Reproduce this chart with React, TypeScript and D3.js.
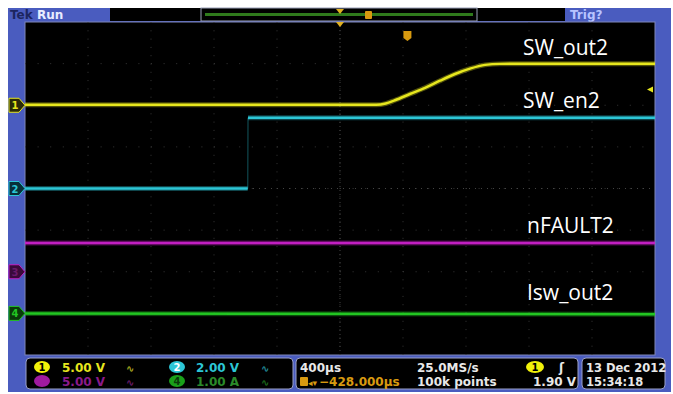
import React from "react";
import * as d3 from "d3";

// ---- data (time in µs, centre of screen = 0; 400 µs/div) ----
const ch1Time = [-2000, 230, 290, 349, 444, 540, 635, 730, 825, 921, 1016, 2000];
const ch1Volts = [0.05, 0.05, 0.2, 0.6, 1.35, 2.1, 2.95, 3.75, 4.4, 4.85, 4.97, 5.0];
const ch2Time = [-2000, -586, -584, 2000];
const ch2Volts = [0.0, 0.0, 3.4, 3.4];
const ch3Time = [-2000, 2000];
const ch3Volts = [3.45, 3.45];
const ch4Time = [-2000, 2000];
const ch4Amps = [0.0, -0.02];

const channelScale = [5, 2, 5, 1]; // units per division
const channelOffsetDiv = [2, 0, -2, -3];
const channelColors = ["#e6e61e", "#2cc6d6", "#c21fc2", "#22c622"];
const channelLabels = ["SW_out2", "SW_en2", "nFAULT2", "Isw_out2"];
const labelBaselineDiv = [3.2, 1.93, -1.07, -2.68];
const triggerTimeUs = 428;
const triggerLevel = 1.9;

const W = 673, H = 394;
const GX0 = 25, GX1 = 655, GY0 = 22, GY1 = 355;

export default function App() {
  const x = d3.scaleLinear().domain([-2000, 2000]).range([GX0, GX1]);
  const yDiv = d3.scaleLinear().domain([4, -4]).range([GY0, GY1]);

  const traces = [
    { t: ch1Time, v: ch1Volts },
    { t: ch2Time, v: ch2Volts },
    { t: ch3Time, v: ch3Volts },
    { t: ch4Time, v: ch4Amps },
  ];
  const yOf = (ci: number, v: number) => yDiv(channelOffsetDiv[ci] + v / channelScale[ci]);
  const mkLine = (ci: number) =>
    d3
      .line<number>()
      .x((_, i) => x(traces[ci].t[i]))
      .y((d) => yOf(ci, d))
      .curve(ci === 0 ? d3.curveMonotoneX : d3.curveLinear)(traces[ci].v) || "";

  const divX = d3.range(0, 11).map((i) => x(-2000 + i * 400));
  const divY = d3.range(-4, 5).map((d) => yDiv(d));
  const cx = x(0), cy = yDiv(0);

  const trigX = x(triggerTimeUs);
  const trigY = yOf(0, triggerLevel);

  const blue = "#4a5cbf";
  const mono = "'DejaVu Sans', sans-serif";

  // segments of step-like traces: fast (vertical) edges are drawn faint
  const segs = (ci: number) =>
    traces[ci].t.slice(1).map((t1, i) => {
      const t0 = traces[ci].t[i];
      const x0 = x(t0), x1 = x(t1);
      const y0 = yOf(ci, traces[ci].v[i]), y1 = yOf(ci, traces[ci].v[i + 1]);
      const steep = Math.abs(x1 - x0) < 2;
      return { x0, x1, y0, y1, steep };
    });

  const marker = (ci: number, label: string, fill: string, tc: string) => {
    const yy = yDiv(channelOffsetDiv[ci]);
    return (
      <g key={"m" + ci}>
        <path
          d={`M9,${yy - 7} L19,${yy - 7} L25,${yy} L19,${yy + 7} L9,${yy + 7} Z`}
          fill={fill}
          stroke={channelColors[ci]}
          strokeWidth={1}
        />
        <text x={15} y={yy + 4} fontSize={10} fontWeight="bold" fontFamily={mono} fill={tc} textAnchor="middle">
          {label}
        </text>
      </g>
    );
  };

  return (
    <svg width={W} height={H} style={{ position: "absolute", left: 0, top: 0 }}>
      <rect x={0} y={0} width={W} height={H} fill="#ffffff" />
      <rect x={8} y={8} width={663} height={384} fill={blue} />
      {/* top status bar */}
      <text x={10} y={19} fontSize={12} fontWeight="bold" fontFamily={mono} fill="#1c2560">Tek</text>
      <text x={37} y={19} fontSize={12} fontWeight="bold" fontFamily={mono} fill="#e8ecff">Run</text>
      <rect x={110} y={8} width={455} height={13} fill="#000" />
      <rect x={201} y={8} width={276} height={13} fill="#000" stroke="#9aa0b8" strokeWidth={1} />
      <rect x={205} y={13} width={268} height={3} fill="#2f7a1c" />
      <path d={`M${cx - 4},9 L${cx + 4},9 L${cx},14 Z`} fill="#e0b020" />
      <rect x={365} y={11} width={7} height={8} rx={1} fill="#d89a10" />
      <text x={570} y={19} fontSize={12} fontWeight="bold" fontFamily={mono} fill="#b8c4ff">Trig?</text>

      {/* graticule */}
      <rect x={GX0} y={GY0} width={GX1 - GX0} height={GY1 - GY0} fill="#000" stroke="#7f86b8" strokeWidth={1} />
      {divX.slice(1, -1).map((xx, i) => (
        <line key={"vx" + i} x1={xx} x2={xx} y1={GY0} y2={GY1} stroke="#363636" strokeWidth={1} strokeDasharray="1,7.3" />
      ))}
      {divY.slice(1, -1).map((yy, i) => (
        <line key={"hy" + i} x1={GX0} x2={GX1} y1={yy} y2={yy} stroke="#363636" strokeWidth={1} strokeDasharray="1,11.6" />
      ))}
      <line x1={cx} x2={cx} y1={GY0} y2={GY1} stroke="#444" strokeWidth={1} strokeDasharray="1,3" />
      <line x1={GX0} x2={GX1} y1={cy} y2={cy} stroke="#444" strokeWidth={1} strokeDasharray="1,5" />

      {/* traces */}
      {[2, 3, 1].map((ci) => (
        <g key={"t" + ci}>
          {segs(ci).map((s, i) => (
            <g key={i} opacity={s.steep ? 0.35 : 1}>
              <line x1={s.x0} x2={s.x1} y1={s.y0} y2={s.y1} stroke={channelColors[ci]} strokeOpacity={0.35} strokeWidth={s.steep ? 1.5 : 5} />
              <line x1={s.x0} x2={s.x1} y1={s.y0} y2={s.y1} stroke={channelColors[ci]} strokeWidth={s.steep ? 1 : 2.5} />
            </g>
          ))}
        </g>
      ))}
      <path d={mkLine(0)} fill="none" stroke={channelColors[0]} strokeOpacity={0.35} strokeWidth={5} />
      <path d={mkLine(0)} fill="none" stroke={channelColors[0]} strokeWidth={2.5} />

      {/* trigger markers */}
      <path d={`M${cx - 4},${GY0} L${cx + 4},${GY0} L${cx},${GY0 + 5} Z`} fill="#e0b020" />
      <path d={`M${trigX - 4},${31} L${trigX + 4},${31} L${trigX + 4},${38} L${trigX},${41} L${trigX - 4},${38} Z`} fill="#d89a10" />
      <path d={`M${GX1 - 2},${trigY - 3} L${GX1 - 2},${trigY + 3} L${GX1 - 8},${trigY} Z`} fill={channelColors[0]} />

      {/* channel labels */}
      {channelLabels.map((l, i) => (
        <text key={l} x={i < 2 ? 523 : 527} y={yDiv(labelBaselineDiv[i])} fontSize={21} fontFamily="'Open Sans', sans-serif" fill="#ffffff">
          {l}
        </text>
      ))}

      {/* left channel markers */}
      {marker(0, "1", "#2a2a08", "#e6e61e")}
      {marker(1, "2", "#08303a", "#2cc6d6")}
      {marker(2, "3", "#3a0a3a", "#6a1a6a")}
      {marker(3, "4", "#0a3a0a", "#22c622")}

      {/* bottom readouts */}
      <rect x={26} y={358} width={267} height={31} rx={4} fill="#000" stroke="#9aa0c8" strokeWidth={1} />
      <rect x={296} y={358} width={282} height={31} rx={4} fill="#000" stroke="#9aa0c8" strokeWidth={1} />
      <rect x={582} y={358} width={83} height={31} rx={4} fill="#000" stroke="#9aa0c8" strokeWidth={1} />

      <ellipse cx={42} cy={367} rx={8} ry={6} fill="#f2f20a" />
      <text x={42} y={371} fontSize={10} fontWeight="bold" fontFamily={mono} fill="#000" textAnchor="middle">1</text>
      <text x={62} y={372} fontSize={12} fontWeight="bold" fontFamily={mono} fill="#e6e61e">5.00 V</text>
      <text x={126} y={372} fontSize={10} fontWeight="bold" fontFamily={mono} fill="#a8a820">∿</text>
      <ellipse cx={177} cy={367} rx={8} ry={6} fill="#2cc6d6" />
      <text x={177} y={371} fontSize={10} fontWeight="bold" fontFamily={mono} fill="#ffffff" textAnchor="middle">2</text>
      <text x={196} y={372} fontSize={12} fontWeight="bold" fontFamily={mono} fill="#2cc6d6">2.00 V</text>
      <text x={261} y={372} fontSize={10} fontWeight="bold" fontFamily={mono} fill="#208a96">∿</text>

      <ellipse cx={42} cy={381} rx={8} ry={6} fill="#a01aa0" />
      <text x={62} y={386} fontSize={12} fontWeight="bold" fontFamily={mono} fill="#8a1a8a">5.00 V</text>
      <text x={126} y={386} fontSize={10} fontWeight="bold" fontFamily={mono} fill="#6a1a6a">∿</text>
      <ellipse cx={177} cy={381} rx={8} ry={6} fill="#1aa01a" />
      <text x={177} y={385} fontSize={10} fontWeight="bold" fontFamily={mono} fill="#0a3a0a" textAnchor="middle">4</text>
      <text x={196} y={386} fontSize={12} fontWeight="bold" fontFamily={mono} fill="#2a8a2a">1.00 A</text>
      <text x={261} y={386} fontSize={10} fontWeight="bold" fontFamily={mono} fill="#1a6a1a">∿</text>

      <text x={300} y={372} fontSize={12} fontWeight="bold" fontFamily={mono} fill="#e8e8e8">400µs</text>
      <text x={417} y={372} fontSize={12} fontWeight="bold" fontFamily={mono} fill="#e8e8e8">25.0MS/s</text>
      <ellipse cx={535} cy={367} rx={9} ry={6} fill="#f2f20a" />
      <text x={535} y={371} fontSize={10} fontWeight="bold" fontFamily={mono} fill="#000" textAnchor="middle">1</text>
      <text x={559} y={372} fontSize={12} fontWeight="bold" fontFamily={mono} fill="#e8e8e8">ʃ</text>

      <rect x={300} y={377} width={8} height={9} rx={1} fill="#d89a10" />
      <text x={308} y={386} fontSize={9} fontWeight="bold" fontFamily={mono} fill="#d89a10">◂▾</text>
      <text x={319} y={386} fontSize={12} fontWeight="bold" fontFamily={mono} fill="#d89a10">−428.000µs</text>
      <text x={417} y={386} fontSize={12} fontWeight="bold" fontFamily={mono} fill="#e8e8e8">100k points</text>
      <text x={533} y={386} fontSize={12} fontWeight="bold" fontFamily={mono} fill="#e8e8e8">1.90 V</text>

      <text x={586} y={372} fontSize={11.5} fontWeight="bold" fontFamily={mono} fill="#e8e8e8">13 Dec 2012</text>
      <text x={586} y={386} fontSize={11.5} fontWeight="bold" fontFamily={mono} fill="#e8e8e8">15:34:18</text>
    </svg>
  );
}
